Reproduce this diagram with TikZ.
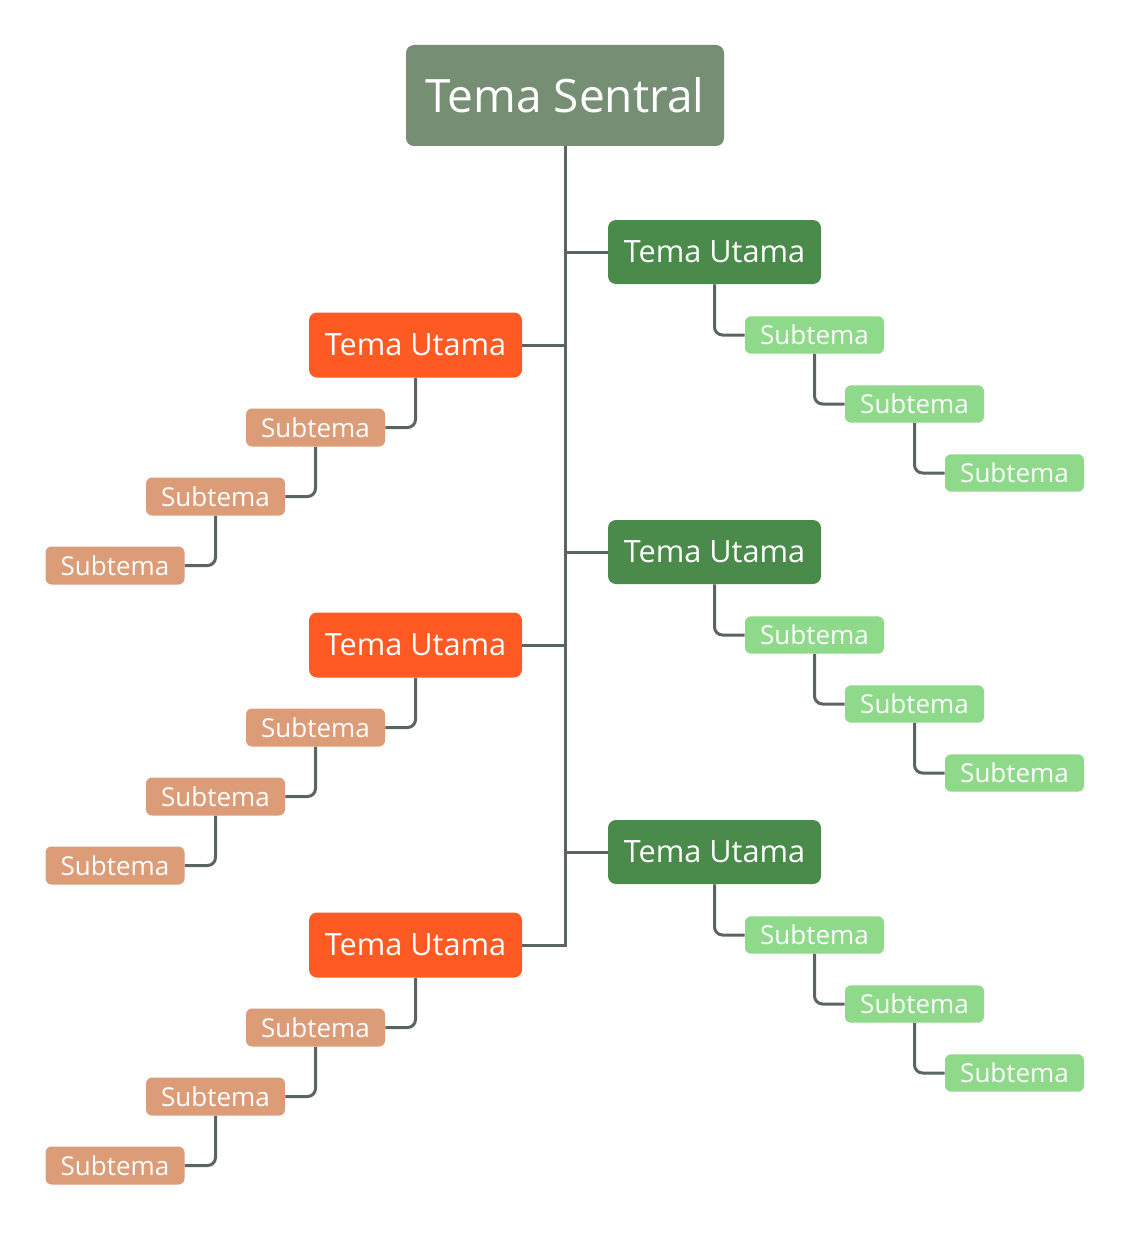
\documentclass[tikz,border=0pt]{standalone}
\usepackage{fontspec}
\setmainfont{Open Sans}
\definecolor{central}{HTML}{768F74}
\definecolor{tugreen}{HTML}{4A8A4A}
\definecolor{subgreen}{HTML}{8ED98A}
\definecolor{tuorange}{HTML}{FF5A23}
\definecolor{subtan}{HTML}{DC9C78}
\definecolor{linec}{HTML}{5A6560}
\begin{document}
\begin{tikzpicture}[x=0.75pt,y=-0.75pt,
  box/.style={rounded corners=6pt,inner sep=0pt,text=white,anchor=center},
  centralbox/.style={box,fill=central,minimum width=238.5pt,minimum height=75.75pt,font=\fontsize{34.5}{36}\selectfont},
  tur/.style={box,fill=tugreen,minimum width=159.75pt,minimum height=48pt,font=\fontsize{23}{26}\selectfont},
  tul/.style={box,fill=tuorange,minimum width=159.75pt,minimum height=48.75pt,font=\fontsize{23}{26}\selectfont},
  subr/.style={box,rounded corners=4.5pt,fill=subgreen,minimum width=104.25pt,minimum height=28pt,font=\fontsize{19.5}{21}\selectfont},
  subl/.style={box,rounded corners=4.5pt,fill=subtan,minimum width=104.25pt,minimum height=28.5pt,font=\fontsize{19.5}{21}\selectfont},
  conn/.style={draw=linec,line width=2.25pt},
  subconn/.style={draw=linec,line width=2.25pt,rounded corners=6pt}]
\useasboundingbox (0,0) rectangle (1131,1245);
\fill[white] (0,0) rectangle (1131,1245);

\node[centralbox] (c) at (565,95.5) {Tema Sentral};

% right main topics
\foreach \k/\y in {1/252,2/552,3/852}{
  \node[tur] (tr\k) at (714.5,\y) {Tema Utama};
  \pgfmathsetmacro{\ya}{\y+83}
  \pgfmathsetmacro{\yb}{\y+152}
  \pgfmathsetmacro{\yc}{\y+221}
  \node[subr] (sr\k a) at (814.5,\ya) {Subtema};
  \node[subr] (sr\k b) at (914.5,\yb) {Subtema};
  \node[subr] (sr\k c) at (1014.5,\yc) {Subtema};
}
% left main topics
\foreach \k/\y in {1/345,2/645,3/945}{
  \node[tul] (tl\k) at (415.5,\y) {Tema Utama};
  \pgfmathsetmacro{\ya}{\y+82.5}
  \pgfmathsetmacro{\yb}{\y+151.5}
  \pgfmathsetmacro{\yc}{\y+220.5}
  \node[subl] (sl\k a) at (315.5,\ya) {Subtema};
  \node[subl] (sl\k b) at (215.5,\yb) {Subtema};
  \node[subl] (sl\k c) at (115,\yc) {Subtema};
}

% trunk
\draw[conn] (c.south) |- (tl3.east);
\foreach \k in {1,2,3}{
  \draw[conn] (tr\k.west) -- (tr\k.west -| c.south);
  \draw[conn] (tl\k.east) -- (tl\k.east -| c.south);
  \draw[subconn] (tr\k.south) |- (sr\k a.west);
  \draw[subconn] (sr\k a.south) |- (sr\k b.west);
  \draw[subconn] (sr\k b.south) |- (sr\k c.west);
  \draw[subconn] (tl\k.south) |- (sl\k a.east);
  \draw[subconn] (sl\k a.south) |- (sl\k b.east);
  \draw[subconn] (sl\k b.south) |- (sl\k c.east);
}
\end{tikzpicture}
\end{document}
